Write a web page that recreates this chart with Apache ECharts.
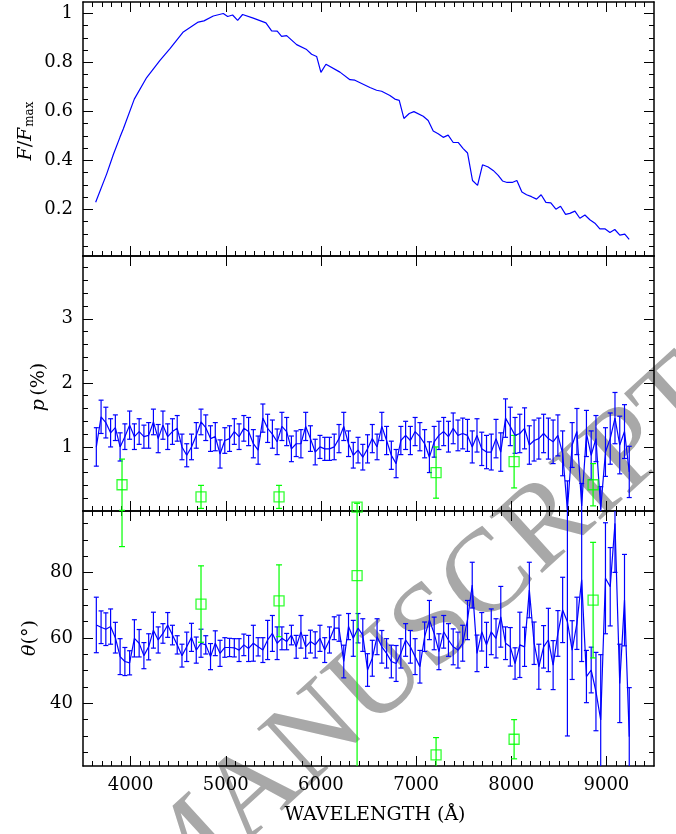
<!DOCTYPE html>
<html>
<head>
<meta charset="utf-8">
<script src="https://cdn.jsdelivr.net/npm/echarts@6/dist/echarts.min.js"></script>
<style>
html, body { margin: 0; padding: 0; background: #fff; }
#main { width: 676px; height: 834px; }
</style>
</head>
<body>
<div id="main"></div>
<script>
// flux spectrum (top panel)
const fluxWave = [3633, 3750, 3819, 3889, 3924, 4039, 4169, 4309, 4414, 4554, 4711, 4771, 4869, 4974, 5020,
  5072, 5125, 5177, 5289, 5422, 5482, 5541, 5587, 5640, 5745, 5850, 5902, 5955, 6000, 6053, 6200, 6305,
  6357, 6515, 6585, 6638, 6725, 6777, 6823, 6872, 6928, 6977, 7075, 7127, 7180, 7232, 7285, 7337, 7390,
  7442, 7495, 7541, 7593, 7646, 7698, 7758, 7810, 7863, 7908, 7957, 8010, 8059, 8112, 8161, 8213, 8266,
  8314, 8364, 8416, 8469, 8518, 8571, 8616, 8669, 8721, 8774, 8826, 8879, 8931, 8984, 9037, 9088, 9141,
  9193, 9239];
const fluxVal = [0.229, 0.346, 0.424, 0.495, 0.529, 0.650, 0.738, 0.808, 0.856, 0.924, 0.964, 0.969, 0.989,
  0.999, 0.987, 0.993, 0.971, 0.995, 0.980, 0.961, 0.928, 0.927, 0.906, 0.909, 0.872, 0.852, 0.833, 0.824,
  0.759, 0.792, 0.760, 0.729, 0.727, 0.697, 0.686, 0.682, 0.665, 0.650, 0.645, 0.571, 0.591, 0.599, 0.580,
  0.563, 0.520, 0.509, 0.494, 0.503, 0.473, 0.473, 0.448, 0.430, 0.318, 0.298, 0.382, 0.373, 0.359, 0.339,
  0.316, 0.310, 0.310, 0.318, 0.271, 0.260, 0.252, 0.242, 0.260, 0.229, 0.227, 0.201, 0.213, 0.180, 0.184,
  0.193, 0.164, 0.177, 0.158, 0.144, 0.121, 0.121, 0.106, 0.118, 0.095, 0.099, 0.078];

// binned polarimetry (blue)
const binWave = [3640, 3690, 3740, 3790, 3840, 3890, 3940, 3990, 4040, 4090,
  4140, 4190, 4240, 4290, 4340, 4390, 4440, 4490, 4540, 4590,
  4640, 4690, 4740, 4790, 4840, 4890, 4940, 4990, 5040, 5090,
  5140, 5190, 5240, 5290, 5340, 5390, 5440, 5490, 5540, 5590,
  5640, 5690, 5740, 5790, 5840, 5890, 5940, 5990, 6040, 6090,
  6140, 6190, 6240, 6290, 6340, 6390, 6440, 6490, 6540, 6590,
  6640, 6690, 6740, 6790, 6840, 6890, 6940, 6990, 7040, 7090,
  7140, 7190, 7240, 7290, 7340, 7390, 7440, 7490, 7540, 7590,
  7640, 7690, 7740, 7790, 7840, 7890, 7940, 7990, 8040, 8090,
  8140, 8190, 8240, 8290, 8340, 8390, 8440, 8490, 8540, 8590,
  8640, 8690, 8740, 8790, 8840, 8890, 8940, 8990, 9040, 9090,
  9140, 9190, 9240];
const polP = [1.00, 1.47, 1.38, 1.22, 1.30, 1.00, 1.16, 1.34, 1.16, 1.24,
  1.16, 1.18, 1.39, 1.13, 1.34, 1.16, 1.24, 1.29, 1.00, 0.87,
  1.00, 1.18, 1.39, 1.30, 1.13, 1.16, 0.89, 1.10, 1.13, 1.24,
  1.16, 1.29, 1.24, 1.05, 0.95, 1.45, 1.29, 1.20,
  1.08, 1.32, 1.24, 0.97, 1.05, 1.05, 1.32, 1.13, 0.92, 1.00,
  0.97, 0.97, 1.00, 1.13, 1.32, 1.05, 0.87, 0.95, 0.84, 0.97,
  1.13, 1.00, 1.32, 1.10, 0.87, 0.74, 1.10, 1.18, 1.10, 1.24,
  1.16, 1.05, 0.84, 1.08, 1.18, 1.24, 1.16, 1.29, 1.18, 1.21,
  1.18, 1.00, 1.18, 0.97, 0.92, 0.92, 1.13, 0.92, 1.45, 1.32,
  1.18, 1.21, 1.29, 1.03, 1.10, 1.13, 1.21, 1.13, 1.08, 1.18,
  0.90, 0.02, 1.03, 1.24, 0.08, 1.21, 0.87, 1.13, 0.03, 0.92,
  1.13, 1.45, 1.03, 1.24, 0.61];
const polPErr = [0.30, 0.26, 0.24, 0.22, 0.20, 0.22, 0.20, 0.22, 0.20, 0.20,
  0.18, 0.20, 0.20, 0.22, 0.22, 0.20, 0.20, 0.20, 0.20, 0.18,
  0.20, 0.20, 0.20, 0.20, 0.20, 0.22, 0.22, 0.20, 0.20, 0.20,
  0.20, 0.20, 0.22, 0.22, 0.22, 0.22, 0.22, 0.22,
  0.20, 0.22, 0.22, 0.20, 0.20, 0.22, 0.22, 0.20, 0.20, 0.18,
  0.18, 0.18, 0.20, 0.22, 0.22, 0.20, 0.20, 0.20, 0.20, 0.22,
  0.22, 0.20, 0.22, 0.22, 0.22, 0.22, 0.22, 0.22, 0.22, 0.22,
  0.22, 0.22, 0.24, 0.24, 0.22, 0.22, 0.24, 0.24, 0.24, 0.24,
  0.25, 0.25, 0.26, 0.26, 0.26, 0.28, 0.30, 0.30, 0.30, 0.30,
  0.28, 0.30, 0.32, 0.30, 0.32, 0.32, 0.30, 0.32, 0.34, 0.32,
  0.35, 0.45, 0.35, 0.36, 0.35, 0.36, 0.38, 0.36, 0.35, 0.38,
  0.40, 0.40, 0.45, 0.42, 0.40];
const polTheta = [64.0, 63.3, 62.7, 63.5, 60.1, 54.3, 52.8, 52.4, 59.9, 58.4,
  54.6, 57.3, 62.4, 59.4, 61.4, 64.0, 60.9, 57.9, 54.6, 57.3,
  60.2, 56.3, 58.4, 57.9, 54.3, 58.4, 55.3, 57.1, 57.1, 57.0,
  56.3, 57.9, 56.8, 58.4, 57.3, 56.3, 59.4, 61.4,
  58.4, 59.9, 58.9, 60.9, 57.3, 61.9, 57.3, 58.9, 57.9, 59.9,
  56.3, 59.4, 63.0, 63.0, 52.8, 63.5, 59.9, 63.0, 60.9, 50.2,
  53.8, 60.4, 57.3, 55.3, 52.8, 52.2, 55.3, 59.4, 57.3, 54.3,
  51.2, 60.4, 65.5, 61.4, 55.8, 61.9, 59.4, 57.3, 56.3, 58.4,
  65.5, 76.2, 55.3, 61.9, 57.9, 61.9, 59.9, 66.5, 58.4, 57.3,
  52.2, 57.9, 57.3, 74.7, 58.4, 51.2, 57.3, 59.4, 51.7, 61.4,
  68.6, 65.0, 56.3, 64.5, 77.8, 48.2, 50.2, 43.6, 34.9, 78.3,
  75.7, 95.1, 46.1, 71.6, 29.8];
const polThetaErr = [8.5, 5.0, 5.0, 5.4, 4.7, 5.5, 4.3, 3.7, 5.7, 4.2,
  4.0, 4.0, 5.5, 4.0, 3.0, 3.8, 3.0, 2.8, 3.5, 4.5,
  4.3, 4.0, 4.3, 2.8, 4.0, 3.8, 4.0, 3.0, 2.8, 2.8,
  3.5, 3.3, 4.0, 5.5, 2.8, 3.8, 6.0, 5.5,
  5.0, 3.5, 2.5, 3.0, 3.5, 5.0, 3.5, 3.5, 4.0, 4.0,
  3.8, 4.0, 3.5, 4.0, 5.0, 4.0, 5.5, 4.5, 5.0, 5.0,
  5.5, 5.5, 5.0, 4.5, 5.0, 5.5, 4.5, 5.0, 5.0, 5.5,
  5.0, 4.5, 6.0, 5.0, 5.5, 5.0, 5.0, 5.5, 5.5, 5.5,
  6.0, 7.0, 5.6, 5.9, 6.9, 7.0, 6.0, 9.3, 5.0, 5.9,
  4.8, 10.0, 6.0, 8.5, 6.5, 6.9, 6.5, 9.7, 7.5, 7.0,
  10.0, 35.0, 9.0, 8.0, 25.0, 8.0, 7.0, 12.0, 20.0, 17.0,
  12.0, 15.0, 12.0, 14.0, 15.0];

// broad-band points (green)
const bandWave = [3910, 4740, 5560, 6380, 7210, 8030, 8860];
const bandP = [0.41, 0.22, 0.22, 0.06, 0.60, 0.77, 0.41];
const bandPErr = [0.40, 0.18, 0.18, 0.06, 0.40, 0.41, 0.33];
const bandTheta = [110, 70.4, 71.4, 79.1, 24.2, 29.0, 71.6];
const bandThetaErr = [22, 11.7, 11.0, 90, 5.3, 6.0, 17.7];

// tick labels
const xTicks = [4000, 5000, 6000, 7000, 8000, 9000];
const fluxTicks = [0.2, 0.4, 0.6, 0.8, 1];
const pTicks = [1, 2, 3];
const thetaTicks = [40, 60, 80];

const BLUE = '#0000ff';
const GREEN = '#00ff00';
const FONT = 'DejaVu Serif';

function steps(from, to, step) {
  const out = [];
  for (let v = from; v <= to + 1e-9; v += step) out.push(Math.round(v * 1000) / 1000);
  return out;
}
const xMinor = steps(3600, 9400, 100);

const panels = [
  { top: 2, height: 254, min: 0.01, max: 1.046, major: fluxTicks, minor: steps(0.05, 1.0, 0.05) },
  { top: 256, height: 255, min: 0, max: 3.98, major: pTicks, minor: steps(0.2, 3.8, 0.2) },
  { top: 511, height: 255, min: 20.8, max: 98.9, major: thetaTicks, minor: steps(25, 95, 5) }
];

const plain = v => String(v);

const grids = [], xAxes = [], yAxes = [];
panels.forEach((p, g) => {
  grids.push({ left: 83, right: 22, top: p.top, height: p.height });
  const lastRow = g === panels.length - 1;
  [['bottom', true], ['top', false]].forEach(([pos, main]) => {
    xAxes.push({
      type: 'value', gridIndex: g, position: pos, min: 3500, max: 9500,
      axisLine: { show: true, onZero: false, lineStyle: { color: '#000', width: 1.5 } },
      axisTick: { show: true, inside: true, length: 10, customValues: xTicks, lineStyle: { color: '#000', width: 1 } },
      axisLabel: { show: main && lastRow, customValues: xTicks, formatter: plain, margin: 10, color: '#000', fontFamily: FONT, fontSize: 18 },
      splitLine: { show: false }
    });
    xAxes.push({
      type: 'value', gridIndex: g, position: pos, min: 3500, max: 9500,
      axisLine: { show: false },
      axisTick: { show: true, inside: true, length: 5, customValues: xMinor, lineStyle: { color: '#000', width: 1 } },
      axisLabel: { show: false },
      splitLine: { show: false }
    });
  });
  [['left', true], ['right', false]].forEach(([pos, main]) => {
    yAxes.push({
      type: 'value', gridIndex: g, position: pos, min: p.min, max: p.max,
      axisLine: { show: true, onZero: false, lineStyle: { color: '#000', width: 1.5 } },
      axisTick: { show: true, inside: true, length: 10, customValues: p.major, lineStyle: { color: '#000', width: 1 } },
      axisLabel: { show: main, customValues: p.major, formatter: plain, margin: 10, color: '#000', fontFamily: FONT, fontSize: 18 },
      splitLine: { show: false }
    });
    yAxes.push({
      type: 'value', gridIndex: g, position: pos, min: p.min, max: p.max,
      axisLine: { show: false },
      axisTick: { show: true, inside: true, length: 5, customValues: p.minor, lineStyle: { color: '#000', width: 1 } },
      axisLabel: { show: false },
      splitLine: { show: false }
    });
  });
});

function errorBars(color, cap, width) {
  return function (params, api) {
    const lo = api.coord([api.value(0), api.value(1)]);
    const hi = api.coord([api.value(0), api.value(2)]);
    const style = { stroke: color, lineWidth: width };
    return {
      type: 'group',
      children: [
        { type: 'line', shape: { x1: lo[0], y1: lo[1], x2: hi[0], y2: hi[1] }, style: style },
        { type: 'line', shape: { x1: lo[0] - cap, y1: lo[1], x2: lo[0] + cap, y2: lo[1] }, style: style },
        { type: 'line', shape: { x1: hi[0] - cap, y1: hi[1], x2: hi[0] + cap, y2: hi[1] }, style: style }
      ]
    };
  };
}

function errSeries(g, wave, val, err, color, cap) {
  return {
    type: 'custom', xAxisIndex: g * 4, yAxisIndex: g * 4, clip: true,
    renderItem: errorBars(color, cap, 1.2),
    encode: { x: 0, y: [1, 2] },
    data: wave.map((w, i) => [w, val[i] - err[i], val[i] + err[i]]),
    z: 3
  };
}

function lineSeries(g, wave, val) {
  return {
    type: 'line', xAxisIndex: g * 4, yAxisIndex: g * 4, showSymbol: false, symbol: 'none',
    lineStyle: { color: BLUE, width: 1.2 }, clip: true,
    data: wave.map((w, i) => [w, val[i]]), z: 4
  };
}

function bandSeries(g, val) {
  return {
    type: 'scatter', xAxisIndex: g * 4, yAxisIndex: g * 4, symbol: 'rect', symbolSize: 10, clip: true,
    itemStyle: { color: 'rgba(0,0,0,0)', borderColor: GREEN, borderWidth: 1.3 },
    data: bandWave.map((w, i) => [w, val[i]]), z: 5
  };
}

const chart = echarts.init(document.getElementById('main'));
chart.setOption({
  animation: false,
  backgroundColor: '#fff',
  grid: grids,
  xAxis: xAxes,
  yAxis: yAxes,
  graphic: [
    {
      type: 'text', x: 185, y: 937, rotation: 0.74, z: -10,
      style: { text: 'MANUSCRIPT', fill: '#a8a8a8', font: '118px "Liberation Serif"', verticalAlign: 'bottom' }
    },
    {
      type: 'text', x: 375, y: 815, z: 10,
      style: { text: 'WAVELENGTH (Å)', fill: '#000', font: '19px "DejaVu Serif"', align: 'center', verticalAlign: 'middle' }
    },
    {
      type: 'text', x: 26, y: 131, rotation: Math.PI / 2, z: 10,
      style: {
        text: '{i|F}{n|/}{i|F}{s|max}', align: 'center', verticalAlign: 'middle',
        rich: {
          i: { fontFamily: FONT, fontStyle: 'italic', fontSize: 19, fill: '#000' },
          n: { fontFamily: FONT, fontSize: 19, fill: '#000' },
          s: { fontFamily: FONT, fontSize: 12, fill: '#000', verticalAlign: 'bottom', padding: [8, 0, 0, 1] }
        }
      }
    },
    {
      type: 'text', x: 39, y: 387, rotation: Math.PI / 2, z: 10,
      style: {
        text: '{i|p} {n|(%)}', align: 'center', verticalAlign: 'middle',
        rich: {
          i: { fontFamily: FONT, fontStyle: 'italic', fontSize: 19, fill: '#000' },
          n: { fontFamily: FONT, fontSize: 19, fill: '#000' }
        }
      }
    },
    {
      type: 'text', x: 30, y: 638, rotation: Math.PI / 2, z: 10,
      style: {
        text: '{i|θ}{n|(°)}', align: 'center', verticalAlign: 'middle',
        rich: {
          i: { fontFamily: FONT, fontStyle: 'italic', fontSize: 19, fill: '#000' },
          n: { fontFamily: FONT, fontSize: 19, fill: '#000' }
        }
      }
    }
  ],
  series: [
    lineSeries(0, fluxWave, fluxVal),
    errSeries(1, binWave, polP, polPErr, BLUE, 2.5),
    lineSeries(1, binWave, polP),
    errSeries(1, bandWave, bandP, bandPErr, GREEN, 3),
    bandSeries(1, bandP),
    errSeries(2, binWave, polTheta, polThetaErr, BLUE, 2.5),
    lineSeries(2, binWave, polTheta),
    errSeries(2, bandWave, bandTheta, bandThetaErr, GREEN, 3),
    bandSeries(2, bandTheta)
  ]
});
</script>
</body>
</html>
